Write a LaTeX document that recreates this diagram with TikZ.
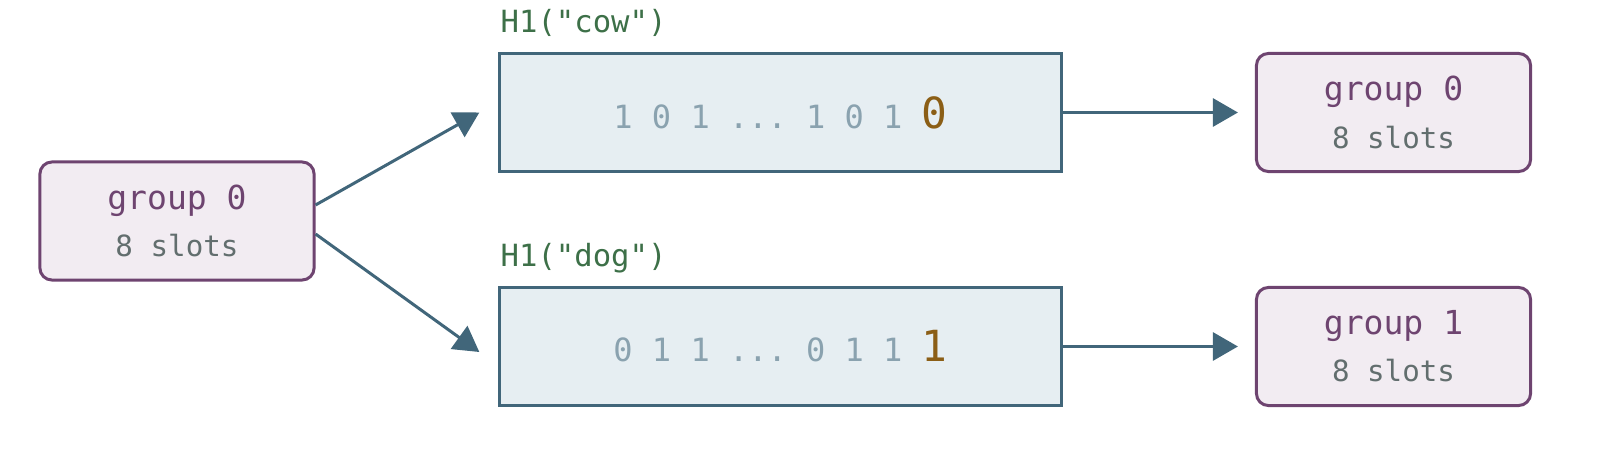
\documentclass[tikz,border=0pt]{standalone}
\usepackage{fontspec}
\setmonofont{DejaVu Sans Mono}
\usetikzlibrary{arrows.meta}

\definecolor{grpline}{HTML}{6E4470}
\definecolor{grpfill}{HTML}{F2ECF2}
\definecolor{slottext}{HTML}{626E6E}
\definecolor{bitline}{HTML}{41667A}
\definecolor{bitfill}{HTML}{E6EEF2}
\definecolor{bittext}{HTML}{8AA2AF}
\definecolor{hitbit}{HTML}{8B5E16}
\definecolor{hashtext}{HTML}{3D7048}

\newcommand{\slots}{{\color{slottext}\fontsize{8.3}{13.4}\selectfont 8 slots}}
\newcommand{\hit}[1]{{\color{hitbit}\fontsize{12.2}{14}\selectfont #1}}

\begin{document}
\begin{tikzpicture}[x=0.01cm, y=-0.01cm,
	group/.style={draw=grpline, fill=grpfill, line width=0.85pt, rounded corners=0.12cm,
		minimum width=2.74cm, minimum height=1.18cm, align=center, inner sep=0pt,
		text=grpline, font=\ttfamily\fontsize{9.4}{13.4}\selectfont},
	bits/.style={draw=bitline, fill=bitfill, line width=0.85pt, minimum width=5.61cm,
		minimum height=1.17cm, inner sep=0pt, text=bittext,
		font=\ttfamily\fontsize{9.1}{11}\selectfont},
	hash/.style={anchor=base west, inner sep=0pt, text=hashtext,
		font=\ttfamily\fontsize{8.7}{10}\selectfont},
	link/.style={draw=bitline, line width=0.85pt, -{Triangle[length=0.25cm, width=0.28cm]}}]
			\useasboundingbox (0, 0) rectangle (1600, 452);
			
			\node[group] (src) at (177, 221) {group 0\\\slots};
			
			\node[bits] (cow) at (780.5, 112.5) {1 0 1 ... 1 0 1 \hit{0}};
			\node[bits] (dog) at (780.5, 346.5) {0 1 1 ... 0 1 1 \hit{1}};
			\node[hash] (cowlabel) at (500, 33) {H1("cow")};
			\node[hash] (doglabel) at (500, 267) {H1("dog")};
			
			\node[group] (dst0) at (1393.5, 112.5) {group 0\\\slots};
			\node[group] (dst1) at (1393.5, 346.5) {group 1\\\slots};
			
			\draw[link] ([yshift=0.16cm]src.east) -- ([xshift=-0.19cm]cow.west);
			\draw[link] ([yshift=-0.13cm]src.east) -- ([xshift=-0.19cm, yshift=-0.055cm]dog.west);
			\draw[link] (cow.east) -- ([xshift=-0.17cm]dst0.west);
			\draw[link] (dog.east) -- ([xshift=-0.17cm]dst1.west);
\end{tikzpicture}
\end{document}
